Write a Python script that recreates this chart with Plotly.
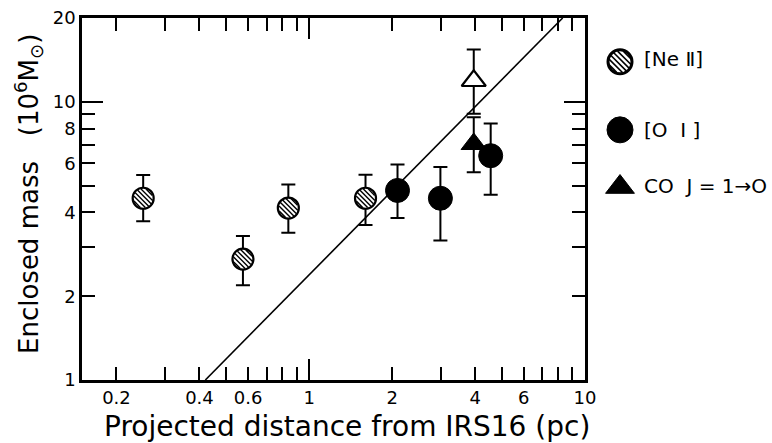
import math
import plotly.graph_objects as go

# ---------------- data ----------------
ne_x = [0.25, 0.575, 0.84, 1.60]
ne_y = [4.5, 2.72, 4.15, 4.5]
ne_up = [5.45, 3.29, 5.04, 5.47]
ne_lo = [3.72, 2.19, 3.38, 3.61]

oi_x = [2.09, 2.99, 4.55]
oi_y = [4.8, 4.5, 6.4]
oi_up = [5.95, 5.83, 8.36]
oi_lo = [3.82, 3.17, 4.63]

co_x = [3.95]
co_y = [7.05]
co_up = [8.8]
co_lo = [5.58]

co_open_x = [3.95]
co_open_y = [11.9]
co_open_up = [15.4]
co_open_lo = [9.05]

fit_x = [0.42, 8.3]
fit_y = [1.0, 20.0]

x_tickvals = [0.2, 0.3, 0.4, 0.5, 0.6, 0.7, 0.8, 0.9, 1, 2, 3, 4, 5, 6, 7, 8, 9, 10]
x_ticktext = ["0.2", "", "0.4", "", "0.6", "", "", "", "1", "2", "", "4", "", "6", "", "", "", "10"]
x_long = [1, 10]
y_tickvals = [1, 2, 3, 4, 5, 6, 7, 8, 9, 10, 20]
y_ticktext = ["1", "2", "", "4", "", "6", "", "8", "", "10", "20"]
y_long = [10]

legend_labels = ["[Ne\u00a0\u2161]", "[O\u00a0\u00a0I\u00a0]", "CO\u00a0\u00a0J\u00a0=\u00a01\u2192O"]

X_RANGE = [math.log10(0.15), 1.0]
Y_RANGE = [0.0, math.log10(20)]

FONT = "DejaVu Sans"
BLACK = "black"

def errs(y, up, lo):
    return ([u - v for u, v in zip(up, y)], [v - l for v, l in zip(y, lo)])

fig = go.Figure()

# fit line
fig.add_trace(go.Scatter(x=fit_x, y=fit_y, mode="lines",
                         line=dict(color=BLACK, width=1.6), hoverinfo="skip", showlegend=False))

def add_points(x, y, up, lo, symbol, fill, size, lw):
    ep, em = errs(y, up, lo)
    fig.add_trace(go.Scatter(
        x=x, y=y, mode="markers",
        marker=dict(symbol=symbol, size=size, color=fill, line=dict(color=BLACK, width=lw)),
        error_y=dict(type="data", array=ep, arrayminus=em, color=BLACK, thickness=2, width=7),
        showlegend=False))

add_points(ne_x, ne_y, ne_up, ne_lo, "circle", "white", 21, 2.2)
add_points(oi_x, oi_y, oi_up, oi_lo, "circle", BLACK, 24, 1)
add_points(co_x, co_y, co_up, co_lo, "triangle-up", BLACK, 22, 1)
add_points(co_open_x, co_open_y, co_open_up, co_open_lo, "triangle-up", "white", 21, 2.2)

# invisible traces for the overlay axes (long ticks, hatch anchoring)
fig.add_trace(go.Scatter(x=[1], y=[1], xaxis="x3", yaxis="y3", mode="markers",
                         marker=dict(opacity=0), hoverinfo="skip", showlegend=False))
fig.add_trace(go.Scatter(x=[0], y=[0], xaxis="x4", yaxis="y4", mode="markers",
                         marker=dict(opacity=0), hoverinfo="skip", showlegend=False))

# legend (drawn on its own hidden axes)
leg_x = [0.1416, 0.1416, 0.1416]
leg_y = [0.879, 0.691, 0.533]
fig.add_trace(go.Scatter(x=[leg_x[0]], y=[leg_y[0]], xaxis="x2", yaxis="y2", mode="markers",
                         marker=dict(symbol="circle", size=24, color="white", line=dict(color=BLACK, width=3)),
                         hoverinfo="skip", showlegend=False))
fig.add_trace(go.Scatter(x=[leg_x[1]], y=[leg_y[1]], xaxis="x2", yaxis="y2", mode="markers",
                         marker=dict(symbol="circle", size=26, color=BLACK, line=dict(color=BLACK, width=1)),
                         hoverinfo="skip", showlegend=False))
fig.add_trace(go.Scatter(x=[leg_x[2]], y=[leg_y[2]], xaxis="x2", yaxis="y2", mode="markers",
                         marker=dict(symbol="triangle-up", size=25, color=BLACK, line=dict(color=BLACK, width=1)),
                         hoverinfo="skip", showlegend=False))

text_y = [0.887, 0.691, 0.537]
for lab, ty in zip(legend_labels, text_y):
    fig.add_annotation(x=0.27, y=ty, xref="x2", yref="y2", text=lab, showarrow=False,
                       xanchor="left", yanchor="middle",
                       font=dict(family=FONT, size=20, color=BLACK))

# hatching for [Ne II] circles
def hatch(xref, yref, xa, ya, r_in, spacing, width):
    shapes = []
    n = int(r_in // spacing) + 1
    for k in range(-n, n):
        d = (k + 0.5) * spacing
        if abs(d) >= r_in - 0.8:
            continue
        h = math.sqrt(r_in ** 2 - d ** 2)
        cx, cy = d / math.sqrt(2), d / math.sqrt(2)
        dx, dy = h / math.sqrt(2), -h / math.sqrt(2)
        shapes.append(dict(type="line", xref=xref, yref=yref,
                           xsizemode="pixel", ysizemode="pixel", xanchor=xa, yanchor=ya,
                           x0=cx - dx, y0=cy - dy, x1=cx + dx, y1=cy + dy,
                           line=dict(color=BLACK, width=width), layer="above"))
    return shapes

shapes = []
for xv, yv in zip(ne_x, ne_y):
    shapes += hatch("x4", "y4", math.log10(xv), math.log10(yv), 9.6, 3.4, 1.4)
shapes += hatch("x2", "y2", leg_x[0], leg_y[0], 11.0, 3.9, 1.6)

TICKFONT = dict(family=FONT, size=18, color=BLACK)
axis_common = dict(type="log", showline=True, linecolor=BLACK, linewidth=2.5, mirror="ticks",
                   ticks="inside", tickcolor=BLACK, tickwidth=2, ticklen=13, showgrid=False,
                   zeroline=False, automargin=False, tickfont=TICKFONT)
hidden = dict(visible=False, automargin=False, showgrid=False, zeroline=False)

fig.update_layout(
    width=772, height=443,
    margin=dict(l=82, r=5, t=18, b=63, autoexpand=False),
    paper_bgcolor="white", plot_bgcolor="white",
    showlegend=False,
    shapes=shapes,
    xaxis=dict(domain=[0, 503 / 685], range=X_RANGE, tickmode="array",
               tickvals=x_tickvals, ticktext=x_ticktext, anchor="y", **axis_common),
    yaxis=dict(domain=[0, 1], range=Y_RANGE, tickmode="array",
               tickvals=y_tickvals, ticktext=y_ticktext, anchor="x", **axis_common),
    xaxis3=dict(type="log", overlaying="x", anchor="y", range=X_RANGE, tickmode="array",
                tickvals=x_long, ticks="inside", ticklen=21, tickwidth=2, tickcolor=BLACK,
                showticklabels=False, showline=False, mirror="ticks", showgrid=False,
                zeroline=False, automargin=False),
    yaxis3=dict(type="log", overlaying="y", anchor="x", range=Y_RANGE, tickmode="array",
                tickvals=y_long, ticks="inside", ticklen=21, tickwidth=2, tickcolor=BLACK,
                showticklabels=False, showline=False, mirror="ticks", showgrid=False,
                zeroline=False, automargin=False),
    xaxis4=dict(type="linear", overlaying="x", anchor="y", range=X_RANGE, **hidden),
    yaxis4=dict(type="linear", overlaying="y", anchor="x", range=Y_RANGE, **hidden),
    xaxis2=dict(domain=[0.75, 1], range=[0, 1], anchor="y2", **hidden),
    yaxis2=dict(domain=[0, 1], range=[0, 1], anchor="x2", **hidden),
)

fig.add_annotation(text="Projected distance from IRS16 (pc)", xref="paper", yref="paper",
                   x=(347 - 82) / 685, y=(380 - 426) / 362, showarrow=False,
                   xanchor="center", yanchor="middle",
                   font=dict(family=FONT, size=28, color=BLACK))
fig.add_annotation(text="Enclosed mass\u00a0\u00a0\u00a0(10<sup>6</sup>M<sub>\u2299</sub>)",
                   xref="paper", yref="paper",
                   x=(28 - 82) / 685, y=(380 - 194) / 362, showarrow=False, textangle=-90,
                   xanchor="center", yanchor="middle",
                   font=dict(family=FONT, size=26, color=BLACK))

fig.write_html("out.html", config={"displayModeBar": False},
               post_script="document.body.style.margin='0px';")
